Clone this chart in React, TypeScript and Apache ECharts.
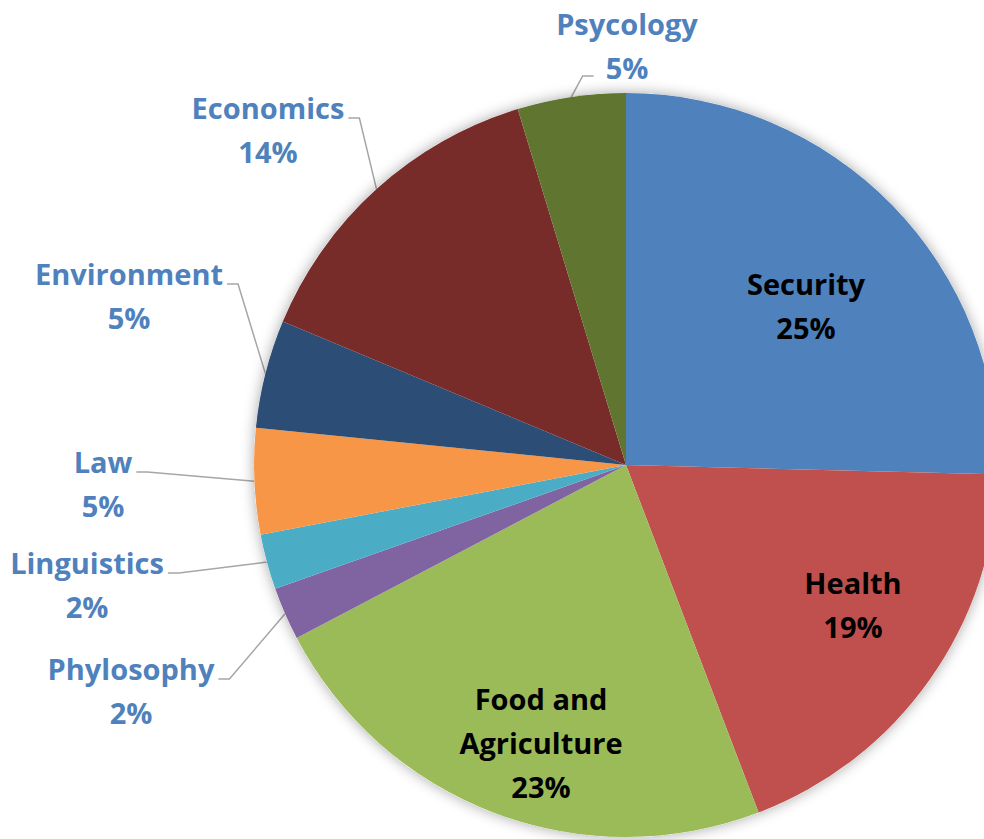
import React, { useEffect, useRef } from "react";
import * as echarts from "echarts";

const categories = [
  "Security",
  "Health",
  "Food and\nAgriculture",
  "Phylosophy",
  "Linguistics",
  "Law",
  "Environment",
  "Economics",
  "Psycology",
];
const values = [25.4, 18.8, 23.1, 2.3, 2.4, 4.6, 4.7, 14.0, 4.7];
const colors = [
  "#4F81BD",
  "#C0504D",
  "#9BBB59",
  "#8064A2",
  "#4BACC6",
  "#F79646",
  "#2C4D75",
  "#772C2A",
  "#5F7530",
];
const insideCategories = ["Security", "Health", "Food and\nAgriculture"];

// label anchor positions (layout, px within chart)
const labelAnchors: number[][] = [
  [806, 305],
  [853, 604],
  [541, 742],
  [131, 690],
  [87, 584],
  [103, 483],
  [129, 295],
  [268, 129],
  [627, 45],
];

const FONT = "'Open Sans', Lato, sans-serif";
const FONT_SIZE = 29;
const LINE_H = 44;

function measure(text: string): number {
  const c = document.createElement("canvas").getContext("2d");
  if (!c) return text.length * FONT_SIZE * 0.6;
  c.font = `bold ${FONT_SIZE}px ${FONT}`;
  return c.measureText(text).width;
}

export default function App() {
  const ref = useRef<HTMLDivElement>(null);
  useEffect(() => {
    if (!ref.current) return;
    const chart = echarts.init(ref.current, undefined, { renderer: "svg" });
    const center = [626, 465];
    const radius = 372;
    const total = values.reduce((s, v) => s + v, 0);
    const data = categories.map((name, i) => {
      const inside = insideCategories.includes(name);
      return {
        name,
        value: values[i],
        itemStyle: { color: colors[i] },
        label: inside
          ? { position: "inside", color: "#000000" }
          : { position: "outside", color: "#4F81BD" },
        labelLine: { show: !inside },
      };
    });
    chart.setOption({
      animation: false,
      backgroundColor: "#ffffff",
      series: [
        {
          type: "pie",
          silent: true,
          center,
          radius,
          data: [{ value: 1, name: "bg" }],
          itemStyle: {
            color: "#ffffff",
            shadowBlur: 14,
            shadowColor: "rgba(0,0,0,0.35)",
          },
          label: { show: false },
          labelLine: { show: false },
        },
        {
          type: "pie",
          center,
          radius,
          startAngle: 90,
          clockwise: true,
          avoidLabelOverlap: false,
          percentPrecision: 1,
          data,
          label: {
            show: true,
            fontFamily: FONT,
            fontWeight: "bold",
            fontSize: FONT_SIZE,
            lineHeight: LINE_H,
            align: "center",
            formatter: (p: any) => `${p.name}\n${Math.round(p.percent)}%`,
          },
          labelLine: {
            length: 15,
            length2: 10,
            lineStyle: { color: "#A6A6A6", width: 1.5 },
          },
          labelLayout: (p: any) => {
            const a = labelAnchors[p.dataIndex];
            if (!a) return {};
            const res: any = { x: a[0], y: a[1], align: "center", verticalAlign: "middle" };
            const pts = p.labelLinePoints;
            const inside = insideCategories.includes(categories[p.dataIndex]);
            if (pts && pts.length && !inside) {
              const start = [pts[0][0], pts[0][1]];
              const w = p.labelRect.width;
              const h = p.labelRect.height;
              let end: number[];
              if (a[1] + h / 2 < start[1] && Math.abs(a[0] - start[0]) < w / 2) {
                const pct = `${Math.round((values[p.dataIndex] / total) * 100)}%`;
                end = [a[0] - measure(pct) / 2 - 12, a[1] + LINE_H / 2 + 9];
              } else if (a[0] < start[0]) {
                end = [a[0] + w / 2 + 4, a[1] - 11];
              } else {
                end = [a[0] - w / 2 - 4, a[1] - 11];
              }
              const elbow = [end[0] + (start[0] > end[0] ? 11 : -11), end[1]];
              res.labelLinePoints = [start, elbow, end];
            }
            return res;
          },
        },
      ],
    });
    return () => chart.dispose();
  }, []);
  return (
    <div
      ref={ref}
      style={{ position: "absolute", left: 0, top: 0, width: 984, height: 839 }}
    />
  );
}
